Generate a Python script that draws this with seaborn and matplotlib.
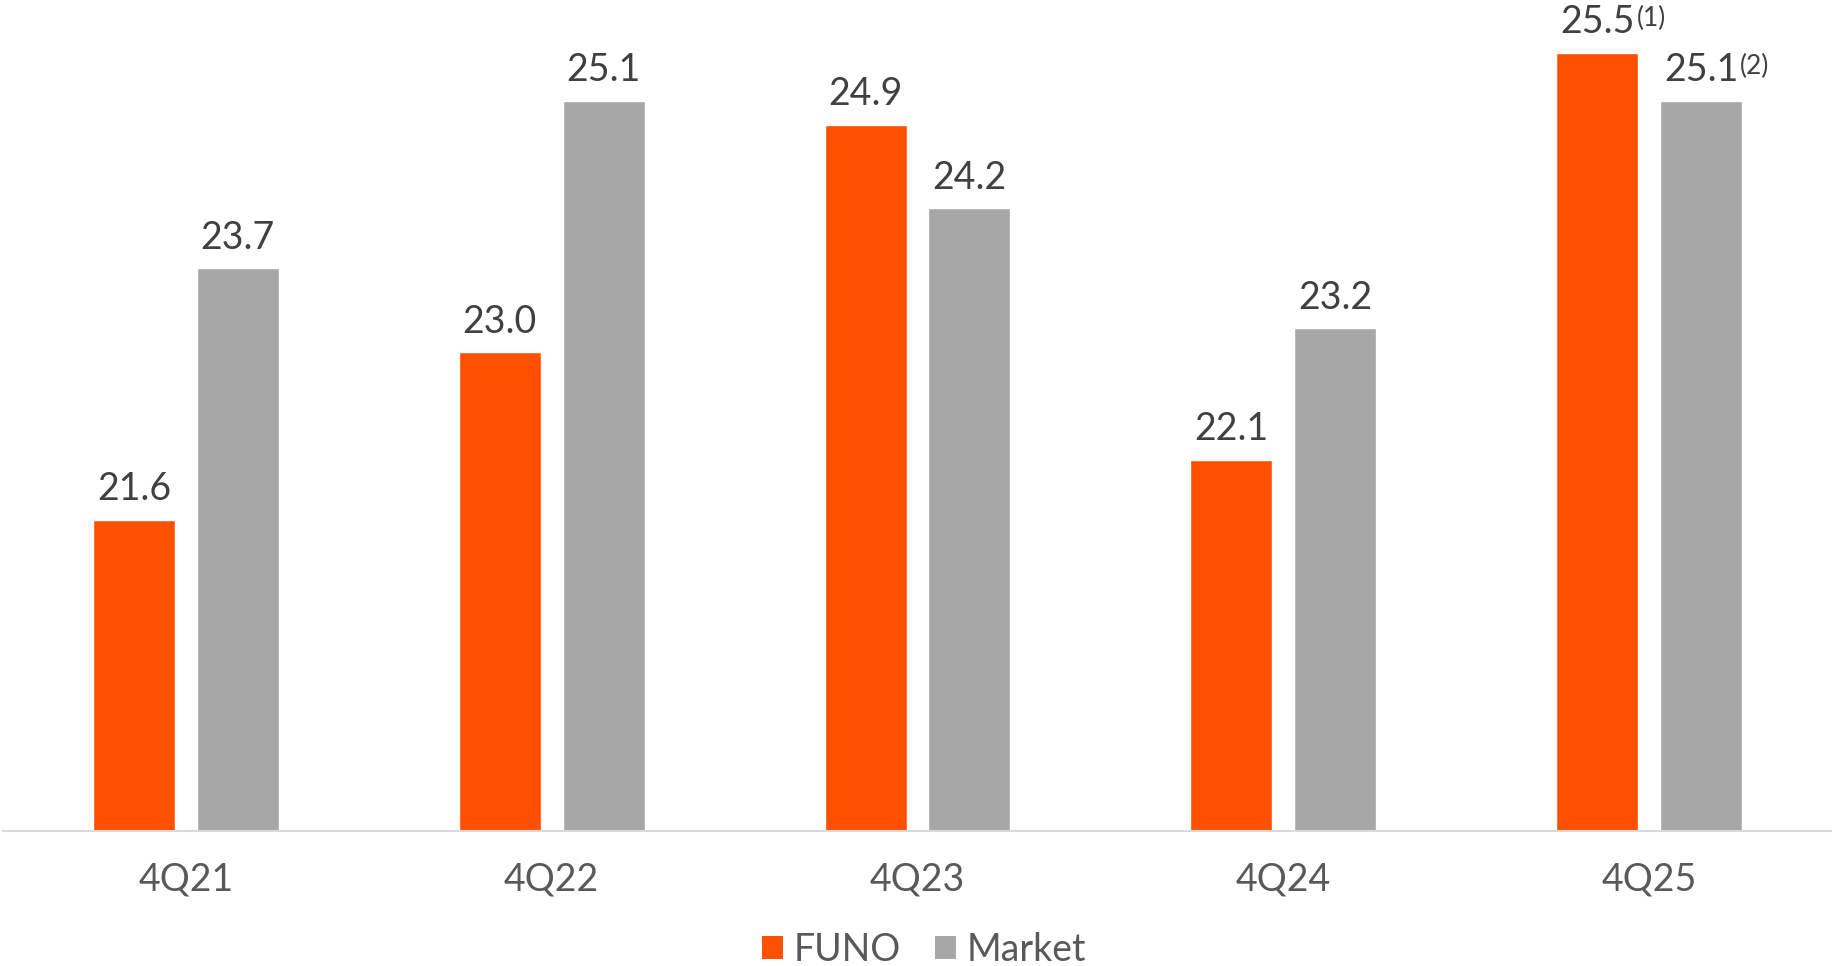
import matplotlib
matplotlib.use("Agg")
import matplotlib.pyplot as plt
from matplotlib.patches import Patch
import seaborn as sns
import pandas as pd

quarters = ["4Q21", "4Q22", "4Q23", "4Q24", "4Q25"]
funo = [21.6, 23.0, 24.9, 22.1, 25.5]
market = [23.7, 25.1, 24.2, 23.2, 25.1]
series_names = ["FUNO", "Market"]
footnotes = {("FUNO", "4Q25"): "(1)", ("Market", "4Q25"): "(2)"}

colors = {"FUNO": "#FF5000", "Market": "#A6A7A6"}

df = pd.DataFrame({
    "quarter": quarters * 2,
    "series": [series_names[0]] * len(quarters) + [series_names[1]] * len(quarters),
    "value": funo + market,
})

sns.set_theme(style="white")
plt.rcParams["font.family"] = ["Lato", "DejaVu Sans"]

W, H = 1832, 966
fig = plt.figure(figsize=(W / 100, H / 100), dpi=100)
ax = fig.add_axes([3 / W, (H - 831) / H, 1829 / W, 831 / H])

sns.barplot(data=df, x="quarter", y="value", hue="series", order=quarters,
            hue_order=series_names, palette=colors, width=0.568, gap=0.21,
            saturation=1, legend=False, ax=ax)

ax.set_xlim(-0.5, len(quarters) - 0.5)
ax.set_ylim(19, 25.94)
ax.set_xlabel("")
ax.set_ylabel("")
ax.set_yticks([])
for side in ["top", "right", "left"]:
    ax.spines[side].set_visible(False)
ax.spines["bottom"].set_color("#D9D9D9")
ax.spines["bottom"].set_linewidth(1.5)
ax.tick_params(axis="x", length=0, pad=22, labelsize=27, labelcolor="#595959")

for container, name in zip(ax.containers, series_names):
    labels = ax.bar_label(container, fmt="%.1f", padding=9, fontsize=27,
                          color="#404040")
    for txt, q in zip(labels, quarters):
        note = footnotes.get((name, q))
        if note:
            ax.annotate(note, xy=(1, 1), xycoords=txt, xytext=(1.5, -1),
                        textcoords="offset points", ha="left", va="top",
                        fontsize=19, color="#404040")

handles = [Patch(facecolor=colors[n], edgecolor="none") for n in series_names]
fig.legend(handles, series_names, loc="center",
           bbox_to_anchor=(924 / W, 1 - 950 / H), ncol=2, frameon=False,
           fontsize=27, labelcolor="#595959", handlelength=0.56,
           handleheight=0.56, handletextpad=0.3, columnspacing=0.9,
           borderpad=0, borderaxespad=0)

fig.savefig("out.png", dpi=100)
